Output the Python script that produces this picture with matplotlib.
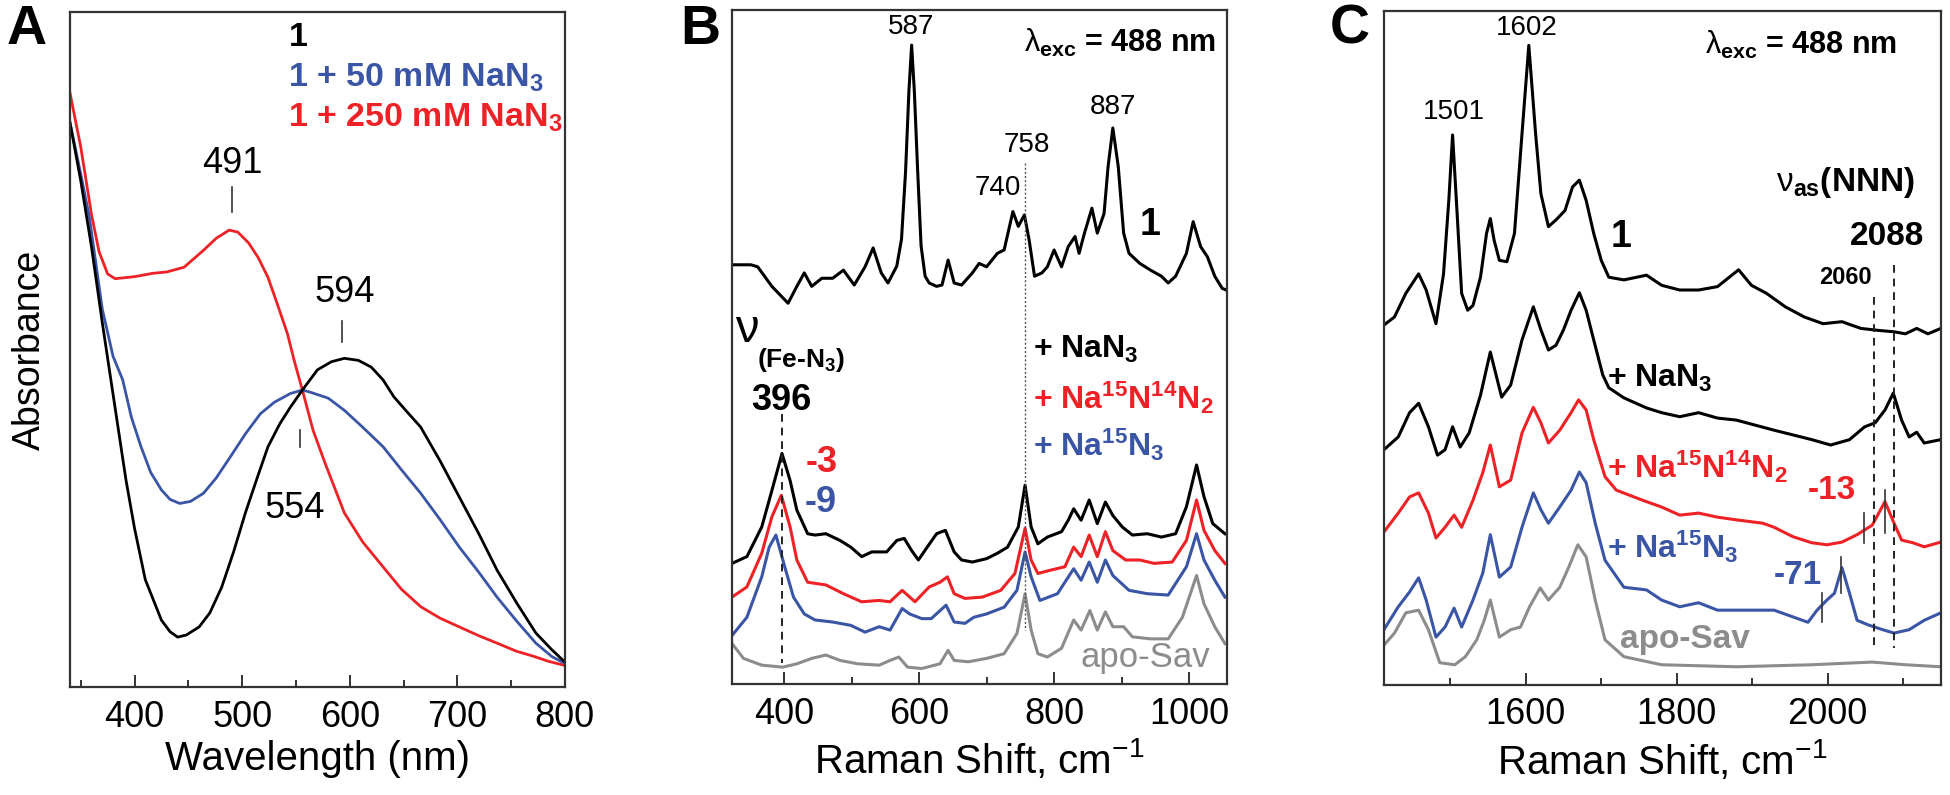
import matplotlib
matplotlib.use('Agg')
import matplotlib.pyplot as plt
from matplotlib.ticker import FixedLocator

plt.rcParams.update({
    'font.family': ['Liberation Sans', 'DejaVu Sans'],
    'mathtext.fontset': 'custom',
    'mathtext.rm': 'Liberation Sans',
    'mathtext.it': 'Liberation Sans:italic',
    'mathtext.bf': 'Liberation Sans:bold',
})

BLACK = '#000000'
RED = '#ee2226'
BLUE = '#3a55a5'
GRAY = '#8c8c8c'

# ---------------- Panel A: UV-vis ----------------
A_red_wl = [340, 350, 360, 367, 375, 382, 400, 417, 430, 446, 464, 476, 488, 496, 506, 515,
            524, 533, 542, 549, 556, 566, 577, 595, 612, 631, 648, 666, 684, 702, 720, 737,
            755, 770, 785, 800]
A_red_abs = [0.880, 0.800, 0.700, 0.645, 0.612, 0.605, 0.608, 0.613, 0.615, 0.622, 0.647, 0.665,
             0.677, 0.674, 0.658, 0.636, 0.607, 0.566, 0.524, 0.480, 0.440, 0.380, 0.332, 0.258,
             0.215, 0.178, 0.145, 0.119, 0.102, 0.089, 0.076, 0.065, 0.053, 0.046, 0.038, 0.032]

A_black_wl = [340, 350, 360, 370, 378, 392, 400, 410, 425, 433, 440, 448, 460, 470, 481, 492,
              503, 514, 524, 535, 545, 556, 570, 583, 595, 608, 620, 631, 641, 652, 666, 684,
              702, 720, 737, 755, 773, 788, 800]
A_black_abs = [0.836, 0.750, 0.652, 0.540, 0.455, 0.307, 0.235, 0.159, 0.099, 0.082, 0.074, 0.077,
               0.089, 0.110, 0.148, 0.200, 0.258, 0.310, 0.356, 0.390, 0.415, 0.440, 0.470, 0.482,
               0.487, 0.484, 0.474, 0.455, 0.430, 0.410, 0.385, 0.335, 0.281, 0.227, 0.173, 0.125,
               0.080, 0.055, 0.037]

A_blue_wl = [340, 350, 358, 370, 380, 389, 397, 406, 415, 425, 433, 442, 452, 464, 476, 489,
             503, 517, 530, 545, 556, 563, 580, 595, 612, 631, 648, 666, 684, 702, 720, 737,
             755, 773, 788, 800]
A_blue_abs = [0.836, 0.760, 0.696, 0.560, 0.490, 0.455, 0.400, 0.356, 0.318, 0.292, 0.278, 0.272,
              0.275, 0.287, 0.310, 0.341, 0.375, 0.405, 0.422, 0.435, 0.440, 0.437, 0.428, 0.410,
              0.385, 0.356, 0.322, 0.287, 0.248, 0.207, 0.170, 0.133, 0.098, 0.065, 0.045, 0.035]

A_legend = ['1', '1 + 50 mM NaN$_\\mathbf{3}$', '1 + 250 mM NaN$_\\mathbf{3}$']
A_peaks = [491, 594, 554]

# ---------------- Panel B: low-frequency Raman ----------------
B1_nu = [323, 351, 361, 382, 406, 419, 430, 441, 456, 472, 488, 504, 520, 532, 544, 554, 567,
         574, 580, 585, 589, 593, 598, 603, 609, 615, 626, 634, 643, 652, 663, 679, 689, 700,
         716, 726, 739, 747, 756, 763, 771, 782, 790, 800, 811, 821, 831, 837, 845, 856, 864,
         874, 880, 887, 895, 903, 911, 927, 943, 959, 969, 980, 996, 1006, 1017, 1027, 1038,
         1049, 1054]
B1_int = [62.2, 62.2, 61.9, 59.0, 56.5, 59.0, 61.0, 59.0, 60.2, 60.2, 61.4, 59.2, 61.9, 64.7,
          61.0, 59.5, 62.0, 66.0, 76.0, 88.0, 94.8, 88.0, 76.0, 65.0, 60.5, 59.5, 59.0, 59.2,
          62.9, 59.5, 59.2, 61.0, 62.4, 61.9, 63.9, 64.4, 70.1, 67.9, 69.6, 65.9, 60.5, 61.0,
          61.9, 64.4, 61.9, 64.9, 66.4, 63.9, 66.9, 70.6, 66.9, 69.8, 76.8, 82.5, 76.8, 66.9,
          63.9, 62.4, 61.4, 60.5, 59.5, 60.5, 63.9, 68.6, 64.9, 63.4, 60.5, 58.7, 58.5]

B_nan3_nu = [323, 345, 367, 382, 397, 409, 419, 435, 446, 462, 483, 499, 515, 530, 552, 567,
             578, 589, 599, 612, 626, 639, 652, 663, 679, 700, 716, 731, 747, 757, 766, 776,
             790, 811, 821, 829, 840, 852, 864, 876, 887, 901, 916, 938, 959, 980, 996, 1011,
             1022, 1035, 1053]
B_nan3_int = [17.9, 18.9, 23.3, 28.7, 34.2, 30.2, 25.8, 22.3, 22.1, 22.3, 21.3, 20.3, 18.9,
              19.6, 19.6, 21.3, 21.6, 19.8, 18.4, 20.3, 22.3, 22.8, 19.6, 18.4, 18.1, 18.6,
              19.4, 20.3, 23.3, 29.5, 23.3, 20.8, 21.8, 22.6, 24.3, 26.0, 24.3, 27.3, 23.8,
              27.0, 25.0, 23.3, 22.1, 22.3, 21.8, 22.3, 26.3, 32.5, 27.8, 23.8, 22.3]

B_1514_nu = [323, 345, 367, 382, 396, 409, 419, 435, 462, 488, 515, 541, 557, 575, 594, 615,
             631, 642, 652, 668, 694, 721, 742, 757, 766, 776, 795, 816, 829, 840, 852, 864,
             876, 887, 906, 927, 948, 975, 996, 1011, 1022, 1038, 1053]
B_1514_int = [12.9, 14.4, 19.4, 24.8, 28.0, 23.3, 18.4, 15.1, 14.7, 13.4, 12.2, 12.4, 12.2,
              13.9, 12.2, 14.4, 15.1, 15.9, 13.4, 12.7, 12.9, 13.9, 16.4, 23.1, 18.4, 16.4,
              16.9, 17.4, 20.3, 18.9, 22.1, 18.9, 22.6, 19.8, 18.4, 18.4, 17.9, 18.1, 21.3,
              27.3, 22.8, 19.8, 17.9]

B_15_nu = [323, 345, 367, 378, 388, 401, 414, 430, 446, 472, 499, 520, 541, 557, 575, 586,
           604, 618, 640, 652, 668, 681, 700, 726, 745, 757, 766, 779, 805, 829, 840, 852,
           864, 876, 887, 911, 938, 969, 996, 1011, 1022, 1038, 1053]
B_15_int = [7.2, 9.9, 15.9, 20.3, 22.1, 17.4, 12.9, 10.4, 9.5, 9.2, 8.7, 7.7, 8.5, 8.0, 11.2,
            10.4, 9.7, 9.7, 11.7, 9.2, 9.0, 9.9, 10.4, 11.4, 13.9, 19.6, 15.9, 12.4, 13.4,
            17.1, 15.4, 18.1, 15.1, 18.4, 16.1, 13.9, 13.4, 13.2, 17.4, 22.3, 18.4, 15.4, 12.9]

B_apo_nu = [323, 340, 367, 398, 419, 441, 462, 483, 509, 541, 557, 570, 583, 604, 631, 643,
            652, 673, 700, 726, 745, 757, 766, 776, 790, 811, 829, 840, 853, 864, 876, 887,
            903, 916, 943, 969, 990, 1011, 1022, 1038, 1053]
B_apo_int = [6.0, 3.8, 2.8, 2.5, 3.0, 3.8, 4.3, 3.5, 3.0, 2.8, 3.5, 4.0, 2.5, 2.3, 3.0, 5.0,
             3.5, 3.3, 3.8, 4.5, 7.5, 13.4, 8.0, 4.5, 4.0, 5.3, 9.5, 8.0, 10.9, 8.0, 10.7,
             8.5, 8.5, 7.0, 6.7, 6.7, 9.9, 16.1, 11.9, 8.5, 6.0]

# ---------------- Panel C: high-frequency Raman ----------------
C1_nu = [1412, 1426, 1441, 1458, 1468, 1481, 1491, 1498, 1503, 1508, 1515, 1523, 1530, 1540,
         1548, 1553, 1558, 1565, 1575, 1585, 1595, 1604, 1613, 1620, 1630, 1640, 1652, 1662,
         1671, 1680, 1690, 1700, 1710, 1730, 1760, 1780, 1804, 1829, 1854, 1882, 1899, 1919,
         1944, 1969, 1994, 2019, 2044, 2068, 2088, 2103, 2118, 2133, 2150]
C1_int = [53.4, 54.6, 58.1, 61.0, 58.6, 53.6, 61.0, 71.9, 81.6, 71.9, 58.1, 55.6, 56.3, 60.5,
          67.0, 69.2, 66.0, 63.0, 62.8, 67.0, 81.8, 94.9, 81.8, 72.9, 68.0, 69.0, 70.4, 73.9,
          74.9, 71.9, 67.0, 63.0, 60.5, 60.1, 60.8, 59.3, 58.6, 58.6, 59.1, 61.6, 59.3, 58.1,
          56.1, 54.6, 53.6, 53.9, 52.9, 52.6, 52.4, 52.1, 52.9, 52.1, 52.9]

C_nan3_nu = [1412, 1431, 1446, 1458, 1471, 1483, 1493, 1503, 1513, 1525, 1540, 1553, 1568,
             1580, 1595, 1610, 1620, 1630, 1640, 1650, 1660, 1671, 1680, 1690, 1702, 1710,
             1730, 1760, 1780, 1804, 1829, 1854, 1879, 1929, 1979, 2004, 2029, 2049, 2063,
             2076, 2087, 2098, 2108, 2118, 2128, 2150]
C_nan3_int = [34.9, 36.8, 40.4, 41.8, 38.3, 34.1, 34.9, 38.3, 35.3, 37.4, 43.0, 49.4, 42.7,
              44.5, 51.2, 56.1, 52.7, 49.7, 50.4, 52.7, 55.6, 58.2, 55.6, 51.2, 46.0, 44.1,
              42.6, 41.1, 40.4, 39.8, 40.4, 39.6, 39.3, 37.8, 36.4, 35.6, 36.4, 38.3, 38.9,
              40.8, 43.3, 39.3, 36.8, 37.5, 35.9, 36.4]

C_1514_nu = [1412, 1431, 1446, 1458, 1471, 1481, 1493, 1505, 1515, 1530, 1543, 1553, 1565,
             1580, 1595, 1610, 1620, 1630, 1645, 1660, 1670, 1680, 1690, 1705, 1720, 1755,
             1780, 1804, 1829, 1854, 1879, 1914, 1929, 1954, 1979, 1999, 2019, 2039, 2059,
             2076, 2088, 2098, 2113, 2128, 2150]
C_1514_int = [22.7, 25.5, 27.9, 28.5, 25.5, 21.8, 23.4, 25.2, 23.4, 27.4, 31.5, 35.6, 29.4,
              30.4, 37.4, 41.2, 38.9, 35.9, 37.8, 40.4, 42.3, 40.8, 36.4, 30.9, 28.9, 27.4,
              26.4, 25.2, 25.5, 24.9, 24.5, 24.0, 23.4, 22.0, 21.1, 20.8, 21.2, 22.3, 23.7,
              27.2, 24.0, 21.5, 21.1, 20.5, 21.2]

C_15_nu = [1412, 1431, 1446, 1458, 1468, 1481, 1493, 1505, 1515, 1530, 1543, 1553, 1565, 1580,
           1595, 1610, 1620, 1630, 1645, 1660, 1671, 1680, 1692, 1705, 1730, 1760, 1780, 1804,
           1829, 1854, 1879, 1929, 1954, 1974, 1986, 1999, 2009, 2019, 2029, 2039, 2054, 2073,
           2088, 2108, 2128, 2150]
C_15_int = [8.2, 11.6, 13.8, 15.9, 12.6, 7.1, 8.6, 11.4, 8.6, 12.6, 16.6, 22.3, 16.0, 17.5,
            23.4, 28.5, 26.0, 24.0, 26.4, 28.9, 31.6, 30.0, 24.0, 18.5, 14.5, 14.1, 12.6, 11.6,
            12.2, 11.1, 11.1, 11.1, 10.1, 9.3, 11.1, 12.6, 13.6, 17.4, 13.6, 9.6, 8.9, 8.2,
            7.7, 8.2, 9.6, 10.7]

C_apo_nu = [1412, 1426, 1441, 1458, 1471, 1486, 1506, 1520, 1535, 1545, 1553, 1565, 1580, 1593,
            1605, 1619, 1630, 1645, 1657, 1669, 1680, 1692, 1705, 1730, 1780, 1879, 1979, 2059,
            2103, 2150]
C_apo_int = [5.9, 7.7, 10.7, 11.1, 8.2, 3.3, 3.0, 4.2, 6.7, 9.6, 12.6, 7.1, 8.2, 8.6, 11.6,
             14.4, 12.6, 14.5, 17.5, 20.8, 19.0, 12.6, 6.7, 4.2, 3.0, 2.7, 3.0, 3.4, 3.0, 2.7]

# ---------------- Figure ----------------
fig = plt.figure(figsize=(19.5, 7.95), dpi=100)
axA = fig.add_axes([0.0359, 0.1358, 0.2538, 0.8490])
axB = fig.add_axes([0.3754, 0.1396, 0.2538, 0.8478])
axC = fig.add_axes([0.7097, 0.1384, 0.2856, 0.8478])


def style(ax, xlim, ylim, major, minor, xlabel):
    ax.set_xlim(*xlim)
    ax.set_ylim(*ylim)
    ax.set_yticks([])
    ax.xaxis.set_major_locator(FixedLocator(major))
    ax.xaxis.set_minor_locator(FixedLocator(minor))
    ax.tick_params(axis='x', which='major', direction='in', length=9, width=1.4,
                   labelsize=26, pad=9, color='#333333')
    ax.tick_params(axis='x', which='minor', direction='in', length=5, width=1.4,
                   color='#333333')
    for s in ax.spines.values():
        s.set_linewidth(1.6)
        s.set_color('#333333')
    ax.set_xlabel(xlabel, fontsize=29, labelpad=4)


LW = 2.2
LAM = r'$\mathrm{\lambda}_{\mathbf{exc}}$ = 488 nm'

# Panel A
axA.plot(A_red_wl, A_red_abs, color=RED, lw=2.0)
axA.plot(A_blue_wl, A_blue_abs, color=BLUE, lw=2.0)
axA.plot(A_black_wl, A_black_abs, color=BLACK, lw=2.0)
style(axA, (340, 800), (0, 1), [400, 500, 600, 700, 800], [350, 450, 550, 650, 750],
      'Wavelength (nm)')
axA.set_ylabel('Absorbance', fontsize=27)
axA.yaxis.set_label_coords(-0.045, 0.5)
for txt, col, yy in zip(A_legend, [BLACK, BLUE, RED], [0.963, 0.902, 0.843]):
    axA.text(543, yy, txt, color=col, fontsize=24.5, fontweight='bold', ha='left', va='center')
axA.text(A_peaks[0], 0.776, str(A_peaks[0]), fontsize=26, ha='center', va='center')
axA.plot([A_peaks[0], A_peaks[0]], [0.741, 0.704], color='#333333', lw=1.2)
axA.text(A_peaks[1] + 1, 0.585, str(A_peaks[1]), fontsize=26, ha='center', va='center')
axA.plot([A_peaks[1] - 1, A_peaks[1] - 1], [0.542, 0.511], color='#333333', lw=1.2)
axA.text(A_peaks[2] - 5, 0.265, str(A_peaks[2]), fontsize=26, ha='center', va='center')
axA.plot([A_peaks[2], A_peaks[2]], [0.381, 0.356], color='#333333', lw=1.2)

# Panel B
axB.plot(B_apo_nu, B_apo_int, color=GRAY, lw=LW)
axB.plot(B_15_nu, B_15_int, color=BLUE, lw=LW)
axB.plot(B_1514_nu, B_1514_int, color=RED, lw=LW)
axB.plot(B_nan3_nu, B_nan3_int, color=BLACK, lw=LW)
axB.plot(B1_nu, B1_int, color=BLACK, lw=LW)
style(axB, (323, 1056), (0, 100), [400, 600, 800, 1000], [500, 700, 900],
      'Raman Shift, cm$^{-1}$')
axB.plot([757, 757], [77.3, 8.0], color='#555555', lw=1.0, ls=(0, (1.5, 1.5)))
axB.plot([397, 397], [40.0, 3.1], color='#222222', lw=1.4, ls=(0, (4, 3)))
axB.text(588, 97.5, '587', fontsize=20, ha='center', va='center')
axB.text(887, 85.6, '887', fontsize=20, ha='center', va='center')
axB.text(760, 80.0, '758', fontsize=20, ha='center', va='center')
axB.text(717, 73.6, '740', fontsize=20, ha='center', va='center')
axB.text(1040, 95.1, LAM, fontsize=22, fontweight='bold', ha='right', va='center')
axB.text(942, 68.1, '1', fontsize=27, fontweight='bold', ha='center', va='center')
axB.text(345, 52.5, '\u03bd', fontsize=34, ha='center', va='center')
axB.text(360, 48.0, '(Fe-N$_\\mathbf{3}$)', fontsize=19, fontweight='bold', ha='left',
         va='center')
axB.text(396, 42.1, '396', fontsize=26, fontweight='bold', ha='center', va='center')
axB.text(769, 49.6, '+ NaN$_\\mathbf{3}$', fontsize=23, fontweight='bold', color=BLACK,
         ha='left', va='center')
axB.text(769, 42.4, '+ Na$^\\mathbf{15}$N$^\\mathbf{14}$N$_\\mathbf{2}$', fontsize=23,
         fontweight='bold', color=RED, ha='left', va='center')
axB.text(769, 35.5, '+ Na$^\\mathbf{15}$N$_\\mathbf{3}$', fontsize=23, fontweight='bold',
         color=BLUE, ha='left', va='center')
axB.text(455, 32.8, '-3', fontsize=26, fontweight='bold', color=RED, ha='center', va='center')
axB.text(455, 27.0, '-9', fontsize=26, fontweight='bold', color=BLUE, ha='center', va='center')
axB.text(935, 3.9, 'apo-Sav', fontsize=25, color=GRAY, ha='center', va='center')

# Panel C
axC.plot(C_apo_nu, C_apo_int, color=GRAY, lw=LW)
axC.plot(C_15_nu, C_15_int, color=BLUE, lw=LW)
axC.plot(C_1514_nu, C_1514_int, color=RED, lw=LW)
axC.plot(C_nan3_nu, C_nan3_int, color=BLACK, lw=LW)
axC.plot(C1_nu, C1_int, color=BLACK, lw=LW)
style(axC, (1412, 2150), (0, 100), [1600, 1800, 2000], [1500, 1700, 1900, 2100],
      'Raman Shift, cm$^{-1}$')
axC.plot([2061, 2061], [57.6, 5.5], color='#222222', lw=1.4, ls=(0, (4, 3)))
axC.plot([2088, 2088], [62.3, 5.5], color='#222222', lw=1.4, ls=(0, (4, 3)))
axC.plot([2048, 2048], [25.5, 21.1], color='#333333', lw=1.2)
axC.plot([2076, 2076], [28.9, 22.5], color='#333333', lw=1.2)
axC.plot([1993, 1993], [13.6, 9.3], color='#333333', lw=1.2)
axC.plot([2018, 2018], [19.0, 13.6], color='#333333', lw=1.2)
axC.text(1601, 97.5, '1602', fontsize=20, ha='center', va='center')
axC.text(1505, 85.0, '1501', fontsize=20, ha='center', va='center')
axC.text(2092, 95.0, LAM, fontsize=22, fontweight='bold', ha='right', va='center')
axC.text(2116, 74.6, r'$\mathrm{\nu}_{\mathbf{as}}$(NNN)', fontsize=24, fontweight='bold',
         ha='right', va='center')
axC.text(2128, 66.5, '2088', fontsize=24, fontweight='bold', ha='right', va='center')
axC.text(2023, 60.4, '2060', fontsize=17, fontweight='bold', ha='center', va='center')
axC.text(1726, 66.5, '1', fontsize=27, fontweight='bold', ha='center', va='center')
axC.text(1707, 45.5, '+ NaN$_\\mathbf{3}$', fontsize=23, fontweight='bold', color=BLACK,
         ha='left', va='center')
axC.text(1707, 32.3, '+ Na$^\\mathbf{15}$N$^\\mathbf{14}$N$_\\mathbf{2}$', fontsize=23,
         fontweight='bold', color=RED, ha='left', va='center')
axC.text(1707, 20.5, '+ Na$^\\mathbf{15}$N$_\\mathbf{3}$', fontsize=23, fontweight='bold',
         color=BLUE, ha='left', va='center')
axC.text(2006, 28.9, '-13', fontsize=24, fontweight='bold', color=RED, ha='center', va='center')
axC.text(1960, 16.3, '-71', fontsize=24, fontweight='bold', color=BLUE, ha='center', va='center')
axC.text(1725, 6.7, 'apo-Sav', fontsize=24, fontweight='bold', color=GRAY, ha='left',
         va='center')

# Panel letters
for letter, xp in zip(['A', 'B', 'C'], [27, 700, 1350]):
    fig.text(xp / 1950, 1 - 30 / 795, letter, fontsize=40, fontweight='bold',
             ha='center', va='center')

fig.savefig('out.png', dpi=100)
